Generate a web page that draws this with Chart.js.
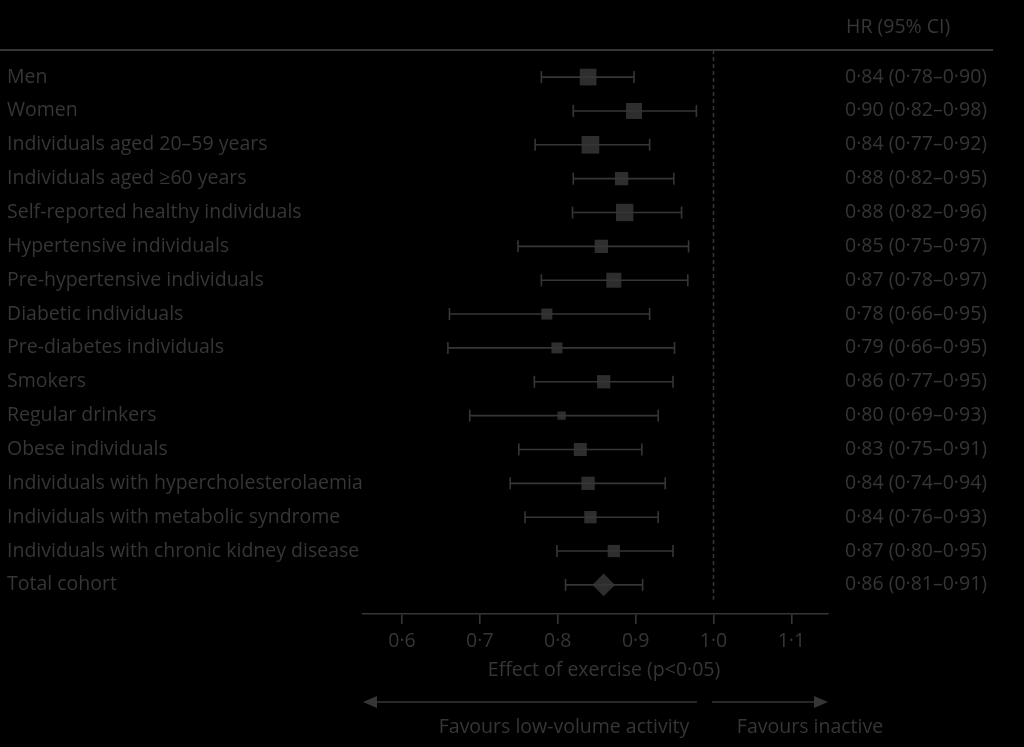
<!DOCTYPE html>
<html>
<head>
<meta charset="utf-8">
<script src="https://cdn.jsdelivr.net/npm/chart.js@4/dist/chart.umd.min.js"></script>
<style>
  html, body { margin: 0; padding: 0; background: #000; }
  canvas { display: block; }
</style>
</head>
<body>
<canvas id="forest" width="1024" height="747"></canvas>
<script>
const groups = [
  "Men", "Women", "Individuals aged 20\u201359 years", "Individuals aged \u226560 years",
  "Self-reported healthy individuals", "Hypertensive individuals", "Pre-hypertensive individuals",
  "Diabetic individuals", "Pre-diabetes individuals", "Smokers", "Regular drinkers",
  "Obese individuals", "Individuals with hypercholesterolaemia", "Individuals with metabolic syndrome",
  "Individuals with chronic kidney disease", "Total cohort"
];
// printed column
const hrText = [
  "0\u00b784 (0\u00b778\u20130\u00b790)", "0\u00b790 (0\u00b782\u20130\u00b798)", "0\u00b784 (0\u00b777\u20130\u00b792)",
  "0\u00b788 (0\u00b782\u20130\u00b795)", "0\u00b788 (0\u00b782\u20130\u00b796)", "0\u00b785 (0\u00b775\u20130\u00b797)",
  "0\u00b787 (0\u00b778\u20130\u00b797)", "0\u00b778 (0\u00b766\u20130\u00b795)", "0\u00b779 (0\u00b766\u20130\u00b795)",
  "0\u00b786 (0\u00b777\u20130\u00b795)", "0\u00b780 (0\u00b769\u20130\u00b793)", "0\u00b783 (0\u00b775\u20130\u00b791)",
  "0\u00b784 (0\u00b774\u20130\u00b794)", "0\u00b784 (0\u00b776\u20130\u00b793)", "0\u00b787 (0\u00b780\u20130\u00b795)",
  "0\u00b786 (0\u00b781\u20130\u00b791)"
];
// plotted marks
const hr = [0.839, 0.898, 0.842, 0.882, 0.886, 0.856, 0.872, 0.786, 0.799, 0.859, 0.805, 0.829, 0.839, 0.842, 0.872, 0.859];
const ciLow = [0.779, 0.820, 0.771, 0.820, 0.819, 0.749, 0.779, 0.661, 0.659, 0.770, 0.687, 0.750, 0.739, 0.758, 0.799, 0.810];
const ciHigh = [0.898, 0.978, 0.918, 0.949, 0.959, 0.968, 0.967, 0.918, 0.950, 0.948, 0.929, 0.908, 0.938, 0.929, 0.948, 0.909];
const xTicks = [0.6, 0.7, 0.8, 0.9, 1.0, 1.1];

// box radius per row (study weight look), last row is the diamond
const boxRadius = [11.8, 11.3, 12.5, 9.4, 12.3, 9.4, 10.6, 7.8, 7.8, 9.4, 5.9, 9.2, 9.4, 8.7, 8.7, 11.3];

const ink = "#363636";
const font = "'Open Sans', sans-serif";
const fsize = 19.5;

const datasets = [];
groups.forEach((g, i) => {
  datasets.push({
    type: "line",
    data: [{ x: ciLow[i], y: i }, { x: ciHigh[i], y: i }],
    borderColor: ink,
    borderWidth: 1.6,
    pointStyle: "line",
    rotation: 90,
    pointRadius: 6,
    pointBorderColor: ink,
    pointBorderWidth: 1.6,
  });
});
datasets.push({
  type: "line",
  data: [{ x: 1.0, y: -0.8 }, { x: 1.0, y: 15.44 }],
  borderColor: ink,
  borderWidth: 1.5,
  borderDash: [4, 3],
  pointRadius: 0,
});
datasets.push({
  type: "scatter",
  data: hr.map((v, i) => ({ x: v, y: i })),
  backgroundColor: "#2e2e2e",
  borderWidth: 0,
  pointStyle: hr.map((v, i) => (i === hr.length - 1 ? "rectRot" : "rect")),
  pointRadius: boxRadius,
});

const extras = {
  id: "extras",
  afterDraw(chart) {
    const ctx = chart.ctx;
    const xs = chart.scales.x;
    ctx.save();
    ctx.strokeStyle = ink;
    ctx.fillStyle = ink;
    // header rule
    ctx.lineWidth = 2;
    ctx.beginPath();
    ctx.moveTo(0, 50);
    ctx.lineTo(993, 50);
    ctx.stroke();
    ctx.font = fsize + "px " + font;
    ctx.textBaseline = "middle";
    ctx.textAlign = "left";
    ctx.fillText("HR (95% CI)", 846, 27);
    ctx.textAlign = "center";
    ctx.fillText("Effect of exercise (p<0\u00b705)", 604, 670);
    ctx.fillText("Favours low-volume activity", 564, 727);
    ctx.fillText("Favours inactive", 810, 727);
    // arrows
    const ay = 702;
    const left = xs.left, right = xs.right;
    ctx.lineWidth = 1.5;
    ctx.beginPath();
    ctx.moveTo(left + 10, ay); ctx.lineTo(697, ay);
    ctx.moveTo(712, ay); ctx.lineTo(right - 10, ay);
    ctx.stroke();
    ctx.beginPath();
    ctx.moveTo(left, ay); ctx.lineTo(left + 14, ay - 6); ctx.lineTo(left + 14, ay + 6); ctx.closePath();
    ctx.moveTo(right, ay); ctx.lineTo(right - 14, ay - 6); ctx.lineTo(right - 14, ay + 6); ctx.closePath();
    ctx.fill();
    ctx.restore();
  }
};

new Chart(document.getElementById("forest"), {
  data: { datasets },
  plugins: [extras],
  options: {
    responsive: false,
    animation: false,
    events: [],
    layout: { padding: { left: 7, top: 50, right: 0, bottom: 0 } },
    plugins: { legend: { display: false }, tooltip: { enabled: false } },
    scales: {
      x: {
        type: "linear",
        position: "bottom",
        min: 0.55,
        max: 1.147,
        afterBuildTicks: s => { s.ticks = xTicks.map(v => ({ value: v })); },
        afterFit: s => { s.height = 133; },
        border: { color: ink, width: 1.6 },
        grid: { drawOnChartArea: false, drawTicks: true, tickLength: 10, color: ink, lineWidth: 1.6 },
        ticks: { color: ink, font: { family: font, size: fsize }, padding: 6, callback: v => v.toFixed(1).replace(".", "\u00b7") },
      },
      y: {
        type: "linear",
        position: "left",
        reverse: true,
        min: -0.8,
        max: 15.86,
        afterBuildTicks: s => { s.ticks = groups.map((g, i) => ({ value: i })); },
        afterFit: s => { s.width = 356; },
        border: { display: false },
        grid: { display: false, drawTicks: false },
        ticks: { color: ink, font: { family: font, size: fsize }, crossAlign: "far", callback: v => groups[v] },
      },
      y2: {
        type: "linear",
        position: "right",
        reverse: true,
        min: -0.8,
        max: 15.86,
        afterBuildTicks: s => { s.ticks = groups.map((g, i) => ({ value: i })); },
        afterFit: s => { s.width = 196; },
        border: { display: false },
        grid: { display: false, drawTicks: false },
        ticks: { color: ink, font: { family: font, size: fsize }, padding: 17, crossAlign: "near", callback: v => hrText[v] },
      },
    },
  },
});
</script>
</body>
</html>
